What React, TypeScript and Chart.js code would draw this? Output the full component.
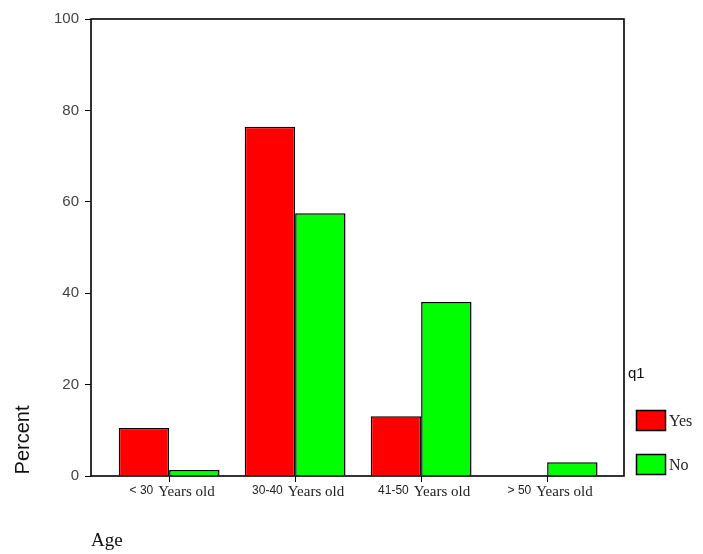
import React, { useEffect, useRef } from 'react';
import { Chart, registerables } from 'chart.js';

Chart.register(...registerables);

const categories = ['< 30', '30-40', '41-50', '> 50'];
const categorySuffix = 'Years old';
const seriesNames = ['Yes', 'No'];
const yesValues = [10.5, 76.4, 13.1, 0];
const noValues = [1.3, 57.5, 38.1, 3.0];
const yTicks = [0, 20, 40, 60, 80, 100];
const legendTitle = 'q1';
const yTitle = 'Percent';
const xTitle = 'Age';
const seriesColors = ['#ff0000', '#00ff00'];

const SANS = '"Liberation Sans", Arial, sans-serif';
const SERIF = '"Liberation Serif", "Times New Roman", serif';

export default function App() {
  const ref = useRef<HTMLCanvasElement>(null);

  useEffect(() => {
    const canvas = ref.current;
    if (!canvas) return;

    const decor = {
      id: 'decor',
      afterDatasetsDraw(chart: any) {
        const ctx = chart.ctx;
        const ca = chart.chartArea;
        ctx.save();
        ctx.strokeStyle = '#000';
        ctx.lineWidth = 1.6;
        ctx.strokeRect(ca.left, ca.top, ca.right - ca.left, ca.bottom - ca.top);
        ctx.restore();
      },
      afterDraw(chart: any) {
        const ctx = chart.ctx;
        const ca = chart.chartArea;
        const xs = chart.scales.x;
        ctx.save();

        // x tick labels (mixed fonts)
        ctx.textBaseline = 'middle';
        ctx.textAlign = 'left';
        ctx.fillStyle = '#222';
        categories.forEach((c, i) => {
          const cx = xs.getPixelForValue(i) + 3;
          ctx.font = `12px ${SANS}`;
          const w1 = ctx.measureText(c).width;
          ctx.font = `15px ${SERIF}`;
          const w2 = ctx.measureText(categorySuffix).width;
          const gap = 5;
          const start = cx - (w1 + gap + w2) / 2;
          ctx.font = `12px ${SANS}`;
          ctx.fillText(c, start, ca.bottom + 15);
          ctx.font = `15px ${SERIF}`;
          ctx.fillText(categorySuffix, start + w1 + gap, ca.bottom + 16);
        });

        // y title
        ctx.save();
        ctx.translate(23, 440);
        ctx.rotate(-Math.PI / 2);
        ctx.textAlign = 'center';
        ctx.textBaseline = 'middle';
        ctx.font = `20px ${SANS}`;
        ctx.fillStyle = '#111';
        ctx.fillText(yTitle, 0, 0);
        ctx.restore();

        // x title
        ctx.font = `19px ${SERIF}`;
        ctx.fillStyle = '#111';
        ctx.textAlign = 'left';
        ctx.textBaseline = 'middle';
        ctx.fillText(xTitle, 91, 541);

        // legend
        ctx.font = `15px ${SANS}`;
        ctx.fillStyle = '#111';
        ctx.fillText(legendTitle, ca.right + 4, ca.bottom - 102);
        const boxTops = [ca.bottom - 66, ca.bottom - 22];
        seriesNames.forEach((name, i) => {
          const bx = ca.right + 12;
          const by = boxTops[i];
          ctx.fillStyle = seriesColors[i];
          ctx.fillRect(bx, by, 30, 21);
          ctx.strokeStyle = '#000';
          ctx.lineWidth = 1.5;
          ctx.strokeRect(bx + 0.5, by + 0.5, 29, 20);
          ctx.fillStyle = '#222';
          ctx.font = `16px ${SERIF}`;
          ctx.fillText(name, bx + 33, by + 12);
        });

        ctx.restore();
      },
    };

    const chart = new Chart(canvas, {
      type: 'bar',
      data: {
        datasets: [
          {
            label: seriesNames[0],
            data: yesValues.map((y, i) => ({ x: i, y })),
            backgroundColor: seriesColors[0],
            borderColor: '#000',
            borderWidth: 1.5,
            categoryPercentage: 0.8,
            barPercentage: 1.0,
          },
          {
            label: seriesNames[1],
            data: noValues.map((y, i) => ({ x: i, y })),
            backgroundColor: seriesColors[1],
            borderColor: '#000',
            borderWidth: 1.5,
            categoryPercentage: 0.8,
            barPercentage: 1.0,
          },
        ],
      },
      options: {
        responsive: false,
        animation: false,
        layout: { padding: { left: 0, top: 19, right: 79, bottom: 0 } },
        plugins: {
          legend: { display: false },
          tooltip: { enabled: false },
        },
        scales: {
          x: {
            type: 'linear',
            min: -0.62,
            max: 3.61,
            bounds: 'data',
            offset: false,
            afterBuildTicks: (s: any) => {
              s.ticks = categories.map((_, i) => ({ value: i }));
            },
            ticks: { display: false },
            grid: {
              display: true,
              offset: false,
              drawOnChartArea: false,
              drawTicks: true,
              tickLength: 6,
              tickColor: '#000',
              tickWidth: 1,
            },
            border: { display: false },
            afterFit: (s: any) => {
              s.height = 78;
            },
          },
          y: {
            type: 'linear',
            min: 0,
            max: 100,
            afterBuildTicks: (s: any) => {
              s.ticks = yTicks.map((v) => ({ value: v }));
            },
            ticks: {
              font: { family: SANS, size: 15 },
              color: '#444',
              padding: 6,
            },
            grid: {
              display: true,
              drawOnChartArea: false,
              drawTicks: true,
              tickLength: 6,
              tickColor: '#000',
              tickWidth: 1,
            },
            border: { display: false },
            afterFit: (s: any) => {
              s.width = 91;
            },
          },
        },
      } as any,
      plugins: [decor],
    });

    return () => chart.destroy();
  }, []);

  return (
    <div style={{ position: 'absolute', left: 0, top: 0, width: 703, height: 554, background: '#fff' }}>
      <canvas ref={ref} width={703} height={554} style={{ display: 'block' }} />
    </div>
  );
}
